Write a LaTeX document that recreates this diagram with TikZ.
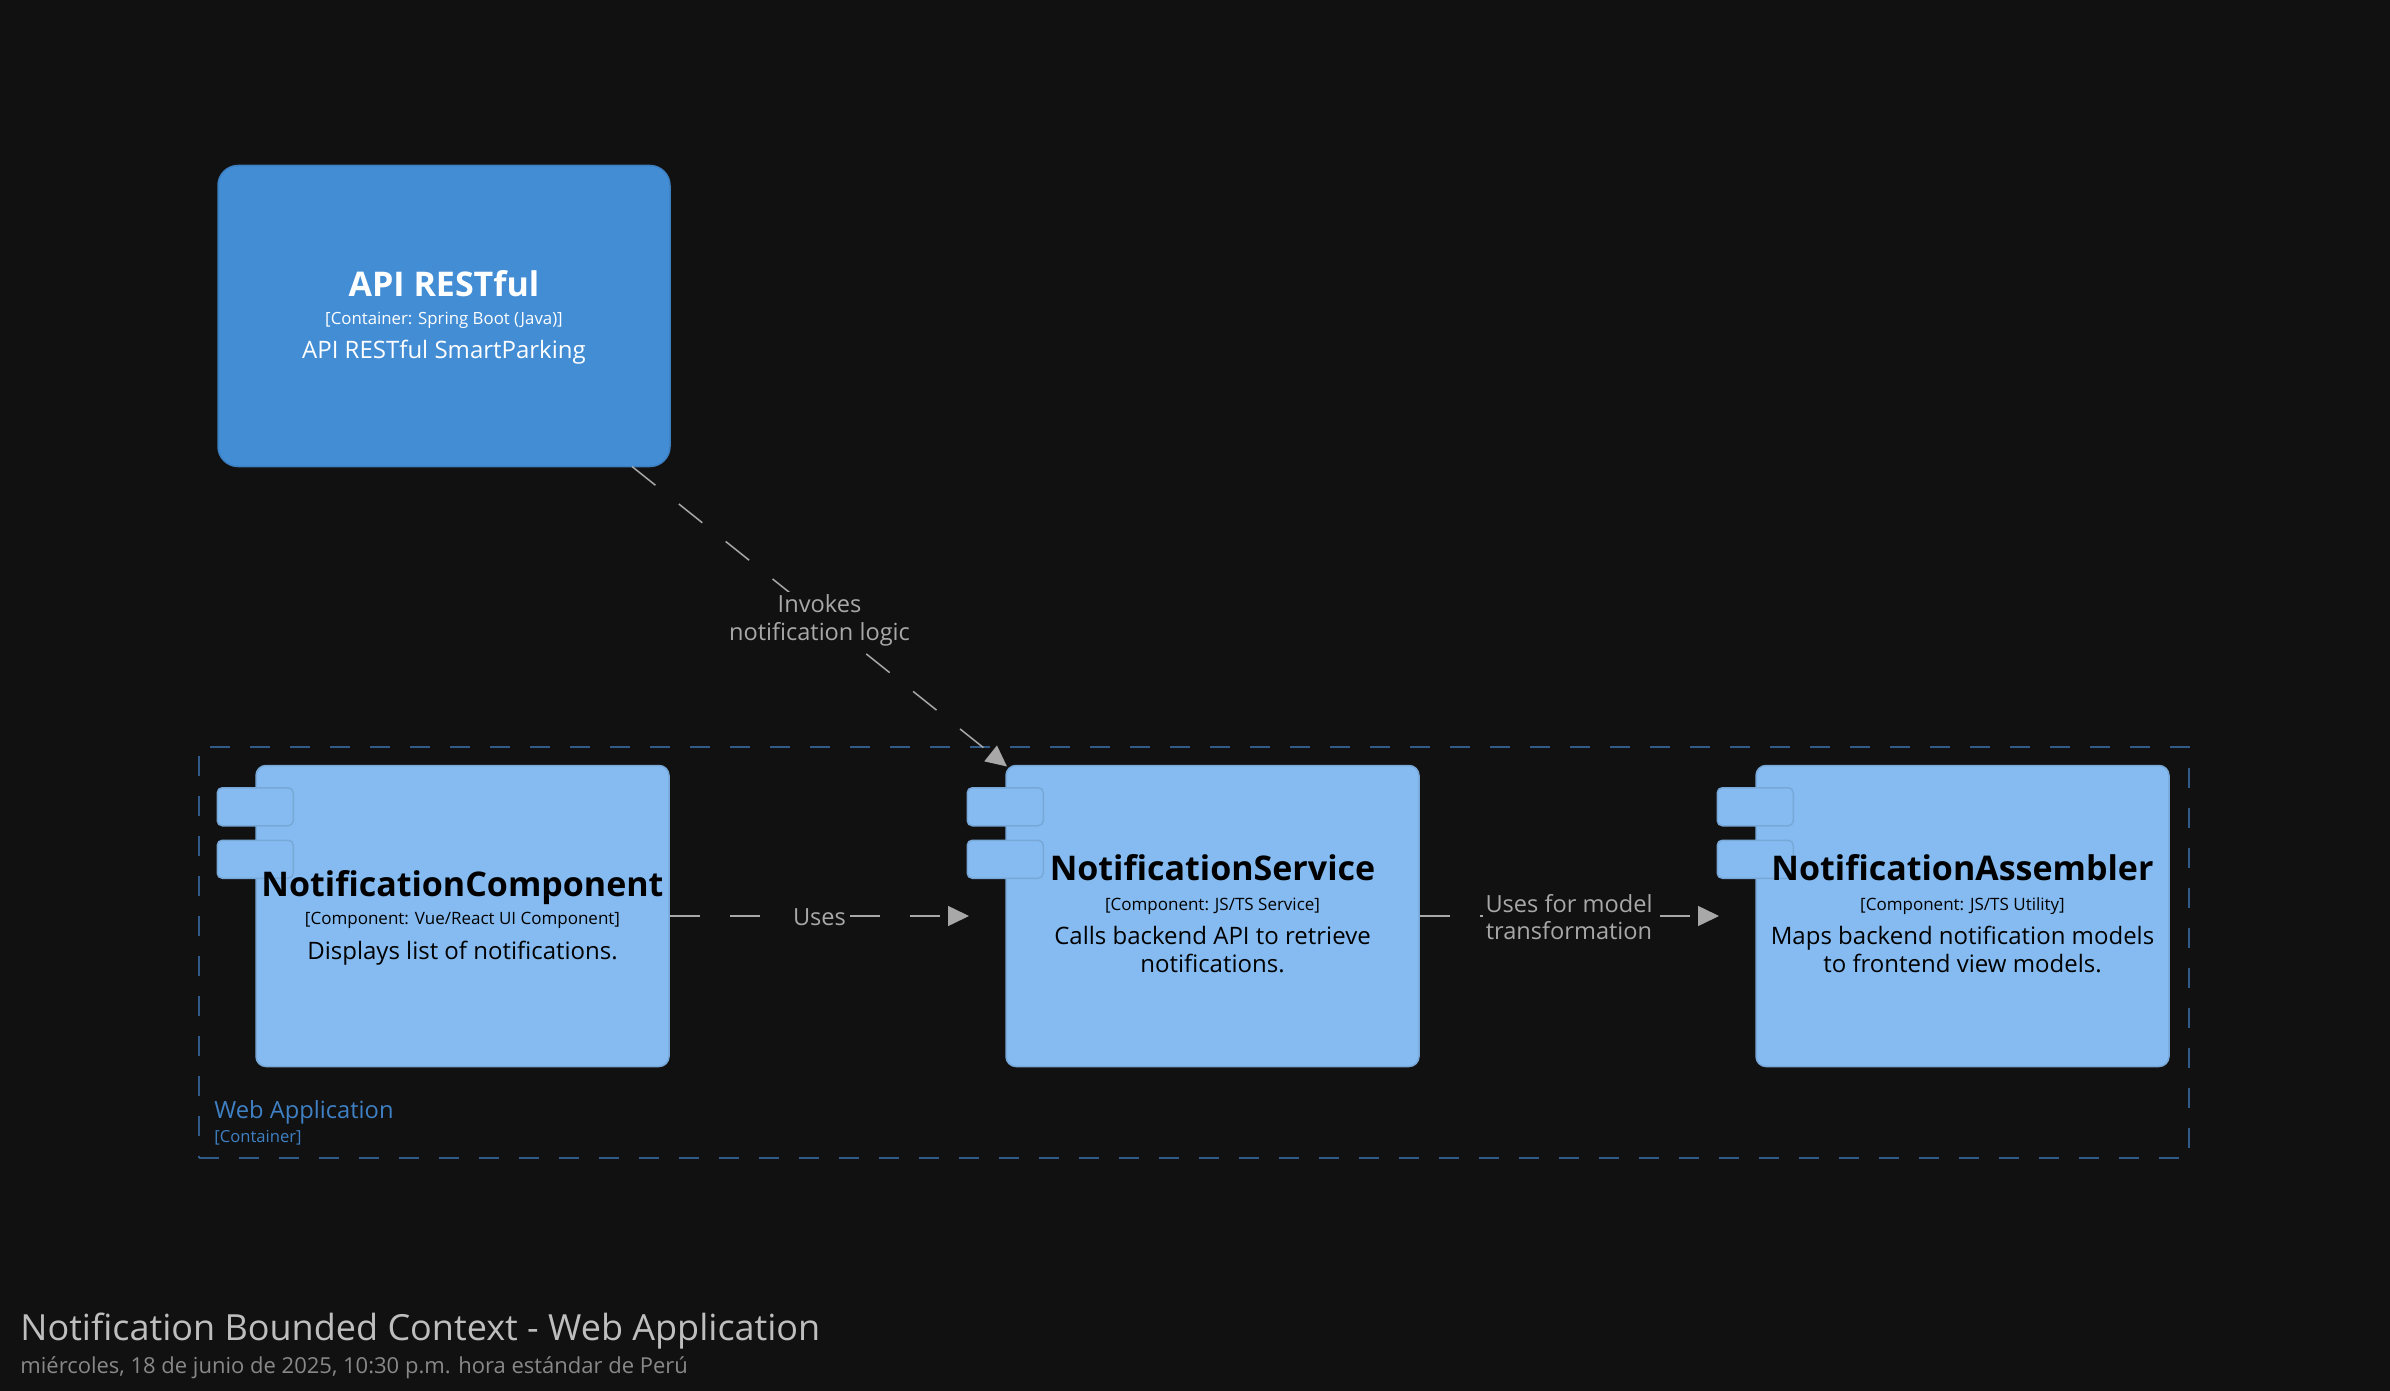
\documentclass[tikz,border=0pt]{standalone}
\usepackage{fontspec}
\setmainfont{Open Sans}
\usetikzlibrary{arrows.meta}
\definecolor{bg}{HTML}{111111}
\definecolor{apifill}{HTML}{438DD5}
\definecolor{apiline}{HTML}{3C7FC0}
\definecolor{compfill}{HTML}{85BBF0}
\definecolor{compline}{HTML}{78A8D8}
\definecolor{rel}{HTML}{A8A8A8}
\definecolor{bndline}{HTML}{31598A}
\definecolor{bndtext}{HTML}{3F80C4}
\definecolor{ttl}{HTML}{BEBEBE}
\definecolor{subttl}{HTML}{888888}
\newcommand{\fsz}[1]{\fontsize{#1}{1.2\dimexpr #1\relax}\selectfont}
\tikzset{
  apibox/.style={draw=apiline, fill=apifill, line width=0.75pt, rounded corners=10pt,
    minimum width=226pt, minimum height=150.5pt, inner sep=0pt},
  compbox/.style={draw=compline, fill=compfill, line width=0.75pt, rounded corners=5pt,
    minimum width=206.5pt, minimum height=150.5pt, inner sep=0pt},
  tabbox/.style={draw=compline, fill=compfill, line width=0.75pt, rounded corners=2.5pt,
    minimum width=38pt, minimum height=19pt, inner sep=0pt},
  bndbox/.style={draw=bndline, line width=1pt, dash pattern=on 10pt off 10pt,
    minimum width=995pt, minimum height=205.5pt, inner sep=0pt},
  txt/.style={inner sep=0pt, anchor=base},
  ttlA/.style={txt, text=white, font=\fsz{17pt}\bfseries},
  subA/.style={txt, text=white, font=\fsz{8.4pt}},
  descA/.style={txt, text=white, font=\fsz{12pt}},
  ttlC/.style={txt, text=black, font=\fsz{17pt}\bfseries},
  subC/.style={txt, text=black, font=\fsz{8.5pt}},
  descC/.style={txt, text=black, font=\fsz{12pt}},
  rellabel/.style={inner sep=1.5pt, anchor=base, fill=bg, text=rel, font=\fsz{11.8pt},
    text height=9pt, text depth=3.2pt},
  relline/.style={draw=rel, line width=0.75pt, dash pattern=on 15pt off 15pt,
    -{Triangle[length=10.5pt,width=10pt]}},
}
\begin{document}
\begin{tikzpicture}[x=0.5pt,y=-0.5pt]
\useasboundingbox (0,0) rectangle (2390,1391);
\fill[bg] (0,0) rectangle (2390,1391);
\begin{scope}[yshift=-0.75pt]
% boundary
\node[bndbox] (web) at (1194,950.5) {};
\node[txt, anchor=base west, text=bndtext, font=\fsz{11.85pt}] (webt) at (214,1117) {Web Application};
\node[txt, anchor=base west, text=bndtext, font=\fsz{8.3pt}] (webs) at (214,1141) {[Container]};

% API box
\node[apibox] (api) at (444,314.5) {};
\node[ttlA] (apit) at (444,295) {API RESTful};
\node[subA] (apis) at (444,323) {[Container: Spring Boot (Java)]};
\node[descA] (apid) at (444,357) {API RESTful SmartParking};

% components
\node[compbox] (comp) at (462.5,914.5) {};
\node[compbox] (svc) at (1212.5,914.5) {};
\node[compbox] (asm) at (1962.5,914.5) {};
\foreach \b in {comp,svc,asm}{
  \node[tabbox] (\b tab1) at ([yshift=-21pt]\b.north west) {};
  \node[tabbox] (\b tab2) at ([yshift=-47.25pt]\b.north west) {};
}

\node[ttlC] (compt) at (462.5,895) {NotificationComponent};
\node[subC] (comps) at (462.5,923) {[Component: Vue/React UI Component]};
\node[descC] (compd) at (462.5,958) {Displays list of notifications.};

\node[ttlC] (svct) at (1212.5,879) {NotificationService};
\node[subC] (svcs) at (1212.5,909) {[Component: JS/TS Service]};
\node[descC] (svcd1) at (1212.5,943) {Calls backend API to retrieve};
\node[descC] (svcd2) at (1212.5,971) {notifications.};

\node[ttlC] (asmt) at (1962.5,879) {NotificationAssembler};
\node[subC] (asms) at (1962.5,909) {[Component: JS/TS Utility]};
\node[descC] (asmd1) at (1962.5,943) {Maps backend notification models};
\node[descC] (asmd2) at (1962.5,971) {to frontend view models.};

% connectors
\coordinate (d1) at (632,465);
\coordinate (d2) at (1007,765);
\coordinate (u2) at (969,914.5);
\coordinate (m2) at (1719,914.5);
\draw[relline] (d1) -- (d2);
\draw[relline] (comp.east) -- (u2);
\draw[relline] (svc.east) -- (m2);

\node[rellabel] (l1a) at (819.5,611) {Invokes};
\node[rellabel] (l1b) at (819.5,639) {notification logic};
\node[rellabel] (l2) at (819.5,924) {Uses};
\node[rellabel] (l3a) at (1569,911) {Uses for model};
\node[rellabel] (l3b) at (1569,938) {transformation};

% title
\node[txt, anchor=base west, text=ttl, font=\fsz{18pt}] (title) at (20,1339) {Notification Bounded Context - Web Application};
\node[txt, anchor=base west, text=subttl, font=\fsz{11pt}] (stamp) at (20,1372) {miércoles, 18 de junio de 2025, 10:30 p.m. hora estándar de Perú};
\end{scope}
\end{tikzpicture}
\end{document}
